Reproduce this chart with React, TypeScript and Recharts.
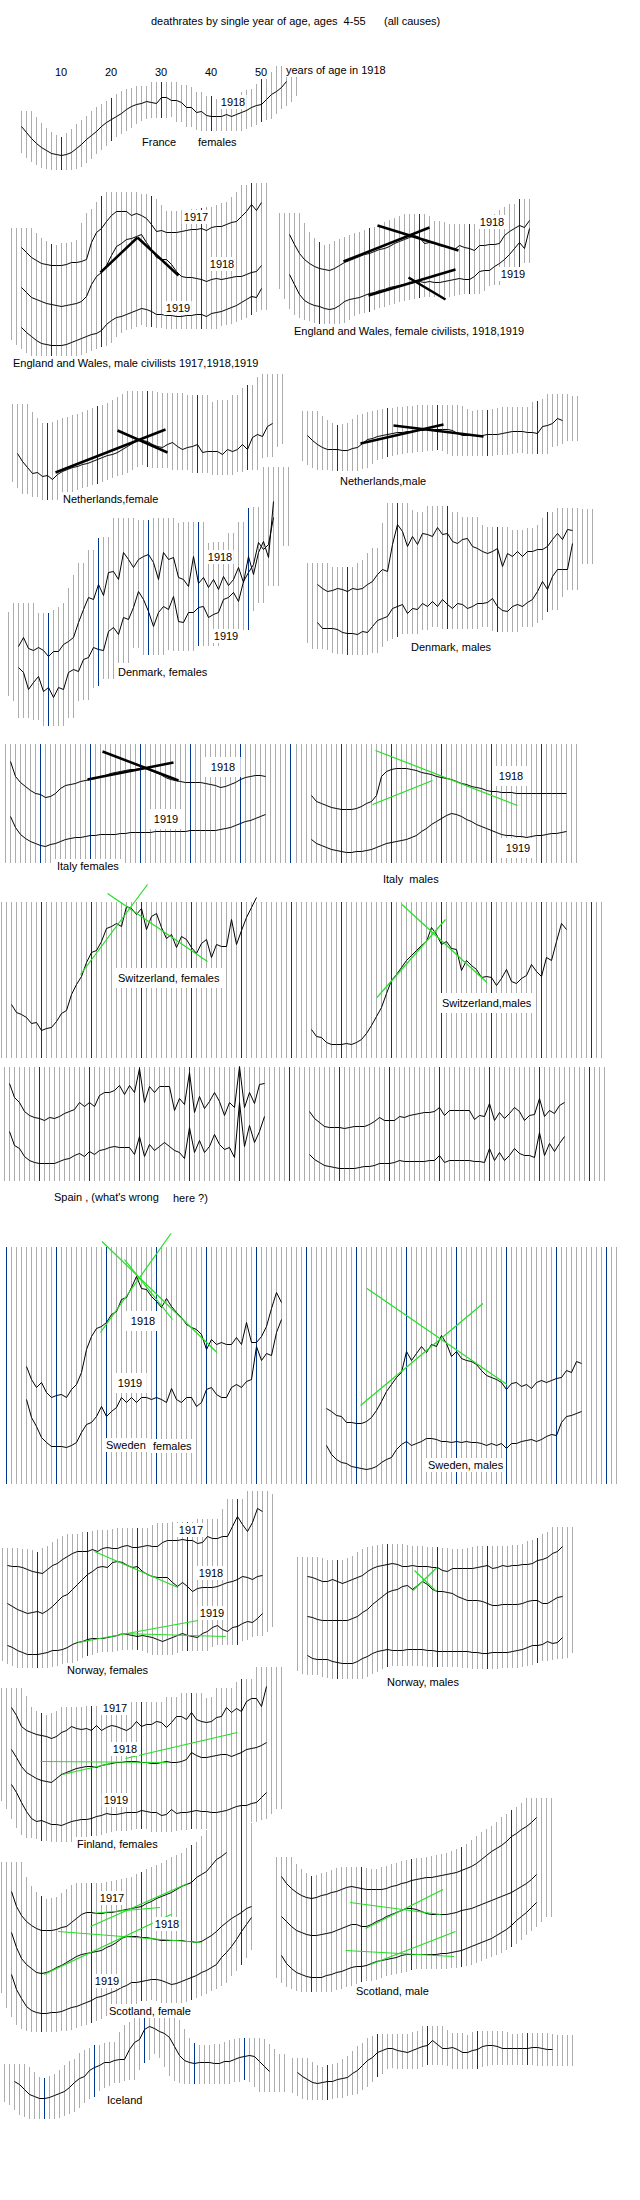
import React from 'react';
import { ComposedChart, Bar, Line, XAxis, YAxis, ReferenceLine, Cell } from 'recharts';

// ---------------- data (values = height above panel base, per single year of age) ----------------
const FRANCE_F_1918 = [38,32,26,21,17,14,11,10,9,10,12,16,20,25,29,33,38,42,45,48,51,55,58,60,61,63,62,61,67,67,64,64,62,57,57,52,53,49,48,48,48,50,48,50,52,54,57,59,60,65,70,73,77,83];

const ENG_M_1917 = [112,107,102,99,96,95,94,94,94,95,97,97,98,100,117,127,131,138,144,148,148,148,144,146,144,141,135,128,129,127,127,127,128,129,130,130,131,129,132,133,133,135,137,138,143,148,155,149,157];
const ENG_M_1918 = [72,67,62,60,58,56,55,54,53,54,55,56,58,63,75,83,87,94,104,113,116,120,121,123,125,117,110,102,100,100,95,88,83,82,82,81,80,78,80,81,80,81,82,83,83,85,87,88,94];
const ENG_M_1919 = [32,27,23,19,16,15,14,14,14,15,17,19,21,23,25,26,29,35,39,42,43,45,47,49,51,50,48,45,45,44,44,43,43,44,44,45,45,43,46,47,48,50,52,54,57,60,63,62,71];
const ENG_M_TRENDS = [[19.8,87,27.2,122],[27.2,122,35.4,84]];

const ENG_F_1918 = [88,78,69,63,59,56,54,53,52,54,57,60,62,64,66,68,69,71,73,74,76,79,81,83,85,87,85,79,80,79,77,76,75,73,77,75,74,72,77,77,78,78,79,87,91,94,97,95,102];
const ENG_F_1919 = [48,38,28,22,19,17,16,14,13,14,17,21,23,24,25,27,29,30,32,33,35,36,37,38,39,40,41,40,41,40,40,41,42,43,44,43,43,46,51,52,52,56,59,63,68,74,80,74,94];
const ENG_F_TRENDS = [[14.8,61,32,95],[21.6,97,37.8,72],[19.8,27,37.2,53],[27.8,45,35.2,23]];

const NETH_F = [46,38,32,26,27,23,24,20,25,28,30,32,33,35,36,38,40,42,44,45,47,50,53,56,59,59,58,55,53,52,55,57,53,50,52,53,55,47,48,48,48,45,50,48,50,55,50,62,65,63,73,76];
const NETH_F_TRENDS = [[11.6,27,33.6,70],[24,69,34,47]];
const NETH_M = [32,27,23,20,18,18,18,17,17,19,20,24,28,29,31,32,33,34,35,35,36,36,37,37,38,38,38,38,38,37,34,32,32,32,32,32,33,33,33,34,35,36,36,36,35,35,34,41,42,44,49,47];
const NETH_M_TRENDS = [[14.6,24,31.2,43],[21.2,42,39.2,31]];

const DEN_F_1918 = [63,72,61,59,62,59,53,58,58,65,68,72,87,100,112,110,125,114,137,138,130,157,150,142,150,153,155,147,130,157,150,152,132,130,123,153,126,132,122,130,120,133,124,130,142,127,153,135,157,168,152,208];
const DEN_F_1919 = [42,37,20,27,33,18,22,12,22,20,37,40,38,50,52,62,60,59,78,82,75,92,90,102,118,110,98,83,97,103,100,113,88,87,97,97,102,103,92,95,97,110,112,117,108,128,137,145,167,160,165,192];
const DEN_M_1918 = [67,63,60,61,63,62,60,63,62,63,67,70,77,82,80,107,127,120,105,115,107,118,117,115,124,117,118,110,108,112,113,105,103,100,98,100,103,85,98,95,100,95,100,100,102,102,105,112,118,112,122,121];
const DEN_M_1919 = [29,23,23,23,22,19,18,18,17,20,19,25,31,33,35,43,45,47,38,43,42,48,45,50,45,52,47,43,48,47,43,45,48,48,49,53,45,41,40,45,47,45,49,52,60,70,62,75,82,82,82,108];

const ITALY_F_1918 = [101,86,80,76,72,69,68,65,66,69,74,77,78,79,81,82,83,84,86,87,89,90,91,92,93,93,94,94,92,90,88,85,83,82,81,80,80,80,80,79,78,77,75,76,78,80,83,85,86,87,87,86];
const ITALY_F_1919 = [46,35,28,24,21,19,17,16,18,19,21,23,24,25,25,26,27,27,28,28,28,28,29,29,30,30,30,30,30,31,31,31,31,31,31,31,32,32,32,32,32,32,33,34,35,37,39,41,42,44,46,48];
const ITALY_F_TRENDS = [[22.4,111,37.6,82],[19.4,83,36.6,100]];
const ITALY_M_1918 = [67,61,59,57,55,54,53,53,53,54,56,59,61,67,86,91,93,94,94,94,93,92,90,89,88,86,85,84,83,81,79,78,76,75,74,72,71,71,70,70,70,69,69,69,69,69,69,69,69,69,69,69];
const ITALY_M_1919 = [23,19,17,15,13,12,11,10,10,11,11,12,13,15,17,19,20,21,22,23,25,27,31,34,38,41,44,47,49,48,46,43,41,38,36,34,32,30,28,27,27,26,26,25,26,27,27,28,29,29,30,31];
const ITALY_M_TRENDS = [[16.8,112,45.2,57],[16.2,58,28.2,82]];

const SWISS_F = [53,45,43,40,34,35,27,29,30,36,44,47,63,73,81,95,105,107,116,129,131,134,131,151,149,143,149,128,141,144,130,119,123,110,121,118,110,104,114,118,100,113,111,111,138,113,127,140,150,160];
const SWISS_F_TRENDS = [[17.8,83,31.2,173],[23.2,164,43.2,96]];
const SWISS_M = [28,21,20,15,13,13,13,14,13,15,18,24,32,41,50,64,77,83,90,97,102,107,112,116,130,123,113,116,109,108,87,97,92,88,80,81,80,72,79,88,76,74,79,82,93,86,81,100,97,116,134,128];
const SWISS_M_TRENDS = [[17.1,60,30.8,138],[22.1,153,39.1,75]];

const SPAIN_A_1918 = [97,83,78,69,65,63,62,60,63,62,64,67,69,71,78,74,78,74,85,88,88,90,95,86,95,88,112,78,94,88,94,94,94,70,82,76,108,68,84,72,79,88,79,65,78,73,114,73,88,77,96,97];
const SPAIN_A_1919 = [49,35,32,24,20,18,17,17,17,17,19,21,22,25,27,24,29,26,30,31,33,34,33,33,33,26,44,24,36,30,34,38,34,30,28,22,53,28,40,28,34,46,36,31,33,23,78,34,55,38,49,64];
const SPAIN_B_1918 = [69,62,58,54,53,53,53,52,53,54,54,54,56,59,63,60,60,60,64,63,65,66,67,68,68,69,73,65,70,70,70,70,70,61,65,64,77,60,68,62,67,73,69,60,65,66,82,64,70,67,75,78];
const SPAIN_B_1919 = [26,21,18,15,14,13,12,12,12,12,13,14,14,15,17,17,17,18,20,19,19,19,19,19,20,20,25,18,20,20,20,20,20,19,19,18,32,20,28,20,25,32,27,25,25,23,48,25,37,29,37,44];

const SWE_F_1918 = [117,104,96,101,91,86,88,89,86,94,99,111,134,147,155,157,161,169,172,184,186,196,207,195,194,187,182,176,185,177,171,166,159,156,154,149,134,144,139,141,139,139,146,139,161,141,141,147,157,175,191,181];
const SWE_F_1919 = [84,66,57,46,41,37,37,37,36,38,41,51,59,61,67,77,67,72,76,86,81,86,81,86,86,84,86,84,81,95,84,81,86,86,77,81,94,96,89,86,86,96,99,96,102,104,137,123,130,128,151,164];
const SWE_F_TRENDS = [[19.1,242,42.1,131],[18.8,151,32.9,250],[23.6,224,33.2,164]];
const SWE_M_1918 = [75,72,68,67,61,61,60,60,62,66,73,82,92,99,106,111,132,123,130,137,131,139,137,148,140,127,132,125,123,122,119,113,108,106,104,101,94,100,101,97,99,95,101,103,101,103,105,106,113,111,122,120];
const SWE_M_1919 = [38,29,24,21,20,17,16,15,14,15,17,21,24,26,34,39,42,38,40,42,45,45,44,42,42,41,42,41,42,41,41,40,38,40,38,40,35,40,40,42,43,44,42,44,47,49,48,61,67,68,70,72];
const SWE_M_TRENDS = [[12.1,195,40.1,99],[10.8,78,35.3,180]];

const NOR_F_1917 = [99,98,98,97,95,93,92,91,95,99,101,105,108,111,113,113,113,115,113,116,117,116,116,118,119,117,117,118,119,118,118,122,124,124,124,125,124,124,121,122,128,126,126,128,128,138,148,140,133,142,156,153];
const NOR_F_1918 = [61,58,55,53,51,52,53,51,54,58,63,68,70,75,80,85,90,93,97,98,97,102,103,102,99,97,98,93,90,88,87,87,87,82,78,82,78,73,76,77,77,77,78,80,82,83,85,88,87,85,88,89];
const NOR_F_1919 = [19,17,14,12,10,10,10,11,12,14,14,15,17,20,22,23,25,26,26,26,27,28,29,31,30,29,28,29,28,27,25,23,25,27,29,31,29,28,27,31,33,37,39,35,33,37,38,41,43,42,46,51];
const NOR_F_TRENDS = [[21.4,113,38.1,77],[18.1,22,42.1,44],[26.7,31,47.7,28]];
const NOR_M_1917 = [95,94,92,90,90,92,90,88,90,92,94,96,100,103,105,106,107,108,107,105,105,106,105,105,105,104,104,101,100,103,103,103,103,103,104,105,106,103,104,106,105,106,106,107,107,108,111,112,114,118,120,125];
const NOR_M_1918 = [55,54,52,51,51,51,51,51,51,53,55,59,62,67,71,75,79,81,82,85,86,82,86,90,87,82,80,80,79,78,75,73,71,71,71,70,68,66,66,67,67,67,67,68,70,71,71,68,68,71,74,75];
const NOR_M_1919 = [16,13,12,12,12,10,9,8,8,8,10,13,15,18,20,21,22,21,21,21,22,22,22,22,21,21,20,20,20,20,20,20,20,19,19,18,18,19,19,19,19,20,21,22,24,26,26,27,30,28,29,34];
const NOR_M_TRENDS = [[25.4,101,29.8,80],[25.1,81,29.9,104]];

const FIN_1917 = [132,124,113,109,107,105,104,103,101,103,107,109,113,111,110,111,109,114,109,112,114,113,111,109,112,118,113,115,115,118,117,112,117,123,123,120,127,120,118,117,118,122,123,132,127,131,128,138,141,141,133,153];
const FIN_1918 = [90,82,73,67,64,61,59,58,57,61,65,67,69,71,72,73,73,72,74,75,76,77,77,78,78,78,77,77,76,76,77,78,77,77,78,80,87,84,82,82,83,84,85,85,83,85,87,90,91,92,94,97];
const FIN_1919 = [55,47,37,28,21,18,19,17,15,15,14,16,18,19,20,20,21,23,24,26,25,25,26,27,27,27,29,28,27,27,24,25,30,26,27,27,28,29,28,28,27,27,28,29,31,33,34,34,36,37,42,47];
const FIN_TRENDS = [[26.8,81,49.2,107],[9.8,78,35.2,77],[14.2,65,23.8,76]];

const SCO_F_1917 = [133,118,109,103,99,96,94,94,94,95,97,98,102,106,110,112,112,111,111,112,112,113,114,115,116,117,118,121,123,126,128,130,132,135,138,140,142,147,150,153,159,165,168,172];
const SCO_F_1918 = [92,77,66,60,56,52,51,52,54,57,59,62,65,68,70,71,72,73,74,77,79,82,86,88,88,88,87,87,86,85,84,84,84,84,84,83,83,82,83,86,89,93,98,102,106,109,112,116,118];
const SCO_F_1919 = [50,35,26,18,14,12,11,11,12,12,13,15,17,18,20,22,24,27,28,30,32,34,37,39,42,42,43,44,45,45,44,42,40,41,43,45,47,49,52,54,57,60,67,72,78,85,93,100,107];
const SCO_F_TRENDS = [[19.8,98,39.2,141],[19.9,111,33.7,117],[13.3,93,41.8,82],[10.5,50,35.9,110]];
const SCO_M_1917 = [113,106,101,97,94,92,91,92,94,95,97,98,100,102,103,102,101,100,100,100,100,101,103,104,106,107,109,110,111,112,112,113,114,115,116,117,119,121,123,126,130,134,138,141,144,148,153,156,160,163,167,172];
const SCO_M_1918 = [73,68,63,59,57,55,54,54,55,56,57,59,61,63,65,65,63,63,65,68,70,73,75,77,79,81,81,80,78,76,75,75,75,75,76,77,79,80,81,83,85,87,89,91,93,95,97,100,103,106,110,115];
const SCO_M_1919 = [34,26,21,17,15,13,12,12,12,14,15,17,18,20,22,23,23,24,26,28,29,30,31,32,34,35,35,35,35,35,35,35,36,36,37,38,39,41,43,45,47,49,51,54,57,60,64,69,73,77,82,87];
const SCO_M_TRENDS = [[17.7,87,35.8,75],[20.8,61,36.3,100],[16.8,39,38.5,33],[21.8,25,38.8,58]];

const ICE_F = [28,25,20,15,13,11,11,12,14,16,18,22,27,31,33,39,42,44,47,47,49,50,50,60,67,70,80,83,81,78,76,72,63,54,49,47,46,47,47,47,46,46,48,48,50,52,53,54,53,48,43,38];
const ICE_M = [29,25,22,19,18,19,20,20,22,23,24,28,31,36,41,44,49,51,53,53,51,50,49,51,53,55,56,61,57,53,53,54,52,49,49,51,52,55,56,56,55,53,53,53,53,53,53,54,54,53,52,52];

const DECADE_TICKS = ['10', '20', '30', '40', '50'];

// ---------------- layout / style ----------------
const GRAY = '#acacac';
const BLUE = '#00358c';
const GREEN = '#22e022';
const FONT = "'Liberation Sans', Arial, Helvetica, sans-serif";
const M = 40;

type Series = { from: number; vals: number[] };
type PanelCfg = {
  x10: number; bottom: number; height: number;
  bandFrom: number; bandTo: number;
  full?: boolean; padTop?: number; padBottom?: number;
  series: Series[]; black?: number[][]; green?: number[][];
};

const s4 = (vals: number[]): Series => ({ from: 4, vals });

const PANELS: PanelCfg[] = [
  { x10: 61, bottom: 165, height: 100, bandFrom: 2, bandTo: 57, padTop: 16, padBottom: 14, series: [{ from: 2, vals: FRANCE_F_1918 }] },
  { x10: 51, bottom: 360, height: 170, bandFrom: 2, bandTo: 53, padTop: 20, padBottom: 12, series: [s4(ENG_M_1917), s4(ENG_M_1918), s4(ENG_M_1919)], black: ENG_M_TRENDS },
  { x10: 319, bottom: 323, height: 130, bandFrom: 2, bandTo: 52, padTop: 22, padBottom: 14, series: [s4(ENG_F_1918), s4(ENG_F_1919)], black: ENG_F_TRENDS },
  { x10: 47, bottom: 500, height: 120, bandFrom: 3, bandTo: 57, padTop: 50, padBottom: 20, series: [s4(NETH_F)], black: NETH_F_TRENDS },
  { x10: 337, bottom: 468, height: 80, bandFrom: 3, bandTo: 58, padTop: 25, padBottom: 20, series: [s4(NETH_M)], black: NETH_M_TRENDS },
  { x10: 48, bottom: 710, height: 220, bandFrom: 2, bandTo: 58, padTop: 35, padBottom: 28, series: [s4(DEN_F_1918), s4(DEN_F_1919)] },
  { x10: 347, bottom: 652, height: 150, bandFrom: 2, bandTo: 59, padTop: 22, padBottom: 20, series: [s4(DEN_M_1918), s4(DEN_M_1919)] },
  { x10: 40, bottom: 863, height: 119, bandFrom: 3, bandTo: 60, full: true, series: [s4(ITALY_F_1918), s4(ITALY_F_1919)], black: ITALY_F_TRENDS },
  { x10: 341, bottom: 863, height: 119, bandFrom: 1, bandTo: 57, full: true, series: [s4(ITALY_M_1918), s4(ITALY_M_1919)], green: ITALY_M_TRENDS },
  { x10: 41, bottom: 1058, height: 156, bandFrom: 2, bandTo: 60, full: true, series: [s4(SWISS_F)], green: SWISS_F_TRENDS },
  { x10: 341, bottom: 1058, height: 156, bandFrom: 1, bandTo: 62, full: true, series: [s4(SWISS_M)], green: SWISS_M_TRENDS },
  { x10: 39, bottom: 1181, height: 114, bandFrom: 3, bandTo: 60, full: true, series: [s4(SPAIN_A_1918), s4(SPAIN_A_1919)] },
  { x10: 339, bottom: 1181, height: 114, bandFrom: 1, bandTo: 63, full: true, series: [s4(SPAIN_B_1918), s4(SPAIN_B_1919)] },
  { x10: 56, bottom: 1484, height: 237, bandFrom: 0, bandTo: 60, full: true, series: [s4(SWE_F_1918), s4(SWE_F_1919)], green: SWE_F_TRENDS },
  { x10: 356, bottom: 1484, height: 237, bandFrom: 1, bandTo: 62, full: true, series: [s4(SWE_M_1918), s4(SWE_M_1919)], green: SWE_M_TRENDS },
  { x10: 37, bottom: 1665, height: 175, bandFrom: 3, bandTo: 57, padTop: 18, padBottom: 13, series: [s4(NOR_F_1917), s4(NOR_F_1918), s4(NOR_F_1919)], green: NOR_F_TRENDS },
  { x10: 337, bottom: 1672, height: 140, bandFrom: 2, bandTo: 57, padTop: 20, padBottom: 15, series: [s4(NOR_M_1917), s4(NOR_M_1918), s4(NOR_M_1919)], green: NOR_M_TRENDS },
  { x10: 41, bottom: 1840, height: 180, bandFrom: 2, bandTo: 58, padTop: 20, padBottom: 16, series: [s4(FIN_1917), s4(FIN_1918), s4(FIN_1919)], green: FIN_TRENDS },
  { x10: 41, bottom: 2025, height: 180, bandFrom: 2, bandTo: 52, padTop: 30, padBottom: 18, series: [s4(SCO_F_1917), s4(SCO_F_1918), s4(SCO_F_1919)], green: SCO_F_TRENDS },
  { x10: 311, bottom: 1990, height: 190, bandFrom: 3, bandTo: 58, padTop: 20, padBottom: 14, series: [s4(SCO_M_1917), s4(SCO_M_1918), s4(SCO_M_1919)], green: SCO_M_TRENDS },
  { x10: 44, bottom: 2110, height: 100, bandFrom: 2, bandTo: 58, padTop: 18, padBottom: 20, series: [s4(ICE_F)] },
  { x10: 327, bottom: 2102, height: 90, bandFrom: 3, bandTo: 59, padTop: 15, padBottom: 16, series: [s4(ICE_M)] },
];

type Lbl = { t: string; x: number; y: number; c?: boolean; pad?: number };
const LABELS: Lbl[] = [
  { t: 'deathrates by single year of age, ages  4-55', x: 151, y: 21 },
  { t: '(all causes)', x: 384, y: 21 },
  ...DECADE_TICKS.map((t, i) => ({ t, x: 61 + 50 * i, y: 72, c: true })),
  { t: 'years of age in 1918', x: 286, y: 70 },
  { t: '1918', x: 233, y: 102, c: true },
  { t: 'France', x: 142, y: 142 },
  { t: 'females', x: 198, y: 142 },
  { t: '1917', x: 196, y: 217, c: true },
  { t: '1918', x: 222, y: 264, c: true },
  { t: '1919', x: 178, y: 308, c: true },
  { t: 'England and Wales, male civilists 1917,1918,1919', x: 13, y: 363 },
  { t: '1918', x: 492, y: 222, c: true },
  { t: '1919', x: 513, y: 274, c: true },
  { t: 'England and Wales, female civilists, 1918,1919', x: 294, y: 331 },
  { t: 'Netherlands,female', x: 63, y: 499 },
  { t: 'Netherlands,male', x: 340, y: 481 },
  { t: '1918', x: 220, y: 557, c: true },
  { t: '1919', x: 226, y: 636, c: true },
  { t: 'Denmark, females', x: 118, y: 672 },
  { t: 'Denmark, males', x: 411, y: 647 },
  { t: '1918', x: 223, y: 767, c: true, pad: 6 },
  { t: '1919', x: 166, y: 819, c: true, pad: 6 },
  { t: 'Italy females', x: 57, y: 866 },
  { t: '1918', x: 511, y: 776, c: true, pad: 6 },
  { t: '1919', x: 518, y: 848, c: true, pad: 6 },
  { t: 'Italy  males', x: 383, y: 879 },
  { t: 'Switzerland, females', x: 118, y: 978, pad: 5 },
  { t: 'Switzerland,males', x: 442, y: 1003, pad: 3 },
  { t: "Spain , (what's wrong", x: 54, y: 1197 },
  { t: 'here ?)', x: 173, y: 1198 },
  { t: '1918', x: 143, y: 1321, c: true, pad: 5 },
  { t: '1919', x: 130, y: 1383, c: true, pad: 5 },
  { t: 'Sweden', x: 106, y: 1445 },
  { t: 'females', x: 153, y: 1446 },
  { t: 'Sweden, males', x: 428, y: 1465 },
  { t: '1917', x: 191, y: 1530, c: true },
  { t: '1918', x: 211, y: 1573, c: true },
  { t: '1919', x: 212, y: 1613, c: true },
  { t: 'Norway, females', x: 67, y: 1670 },
  { t: 'Norway, males', x: 387, y: 1682 },
  { t: '1917', x: 115, y: 1708, c: true },
  { t: '1918', x: 125, y: 1749, c: true },
  { t: '1919', x: 116, y: 1800, c: true },
  { t: 'Finland, females', x: 77, y: 1844 },
  { t: '1917', x: 112, y: 1898, c: true },
  { t: '1918', x: 167, y: 1924, c: true },
  { t: '1919', x: 107, y: 1981, c: true },
  { t: 'Scotland, female', x: 109, y: 2011 },
  { t: 'Scotland, male', x: 356, y: 1991 },
  { t: 'Iceland', x: 107, y: 2100 },
];

function buildRows(p: PanelCfg) {
  const rows: any[] = [];
  for (let a = p.bandFrom; a <= p.bandTo; a++) {
    const row: any = { age: a };
    p.series.forEach((s, i) => {
      const idx = a - s.from;
      row['s' + i] = idx >= 0 && idx < s.vals.length ? s.vals[idx] : null;
    });
    if (p.full) {
      row.band = [0, p.height];
    } else {
      let hi = -Infinity;
      let lo = Infinity;
      for (let b = a - 2; b <= a + 2; b++) {
        p.series.forEach((s) => {
          const idx = Math.min(Math.max(b - s.from, 0), s.vals.length - 1);
          hi = Math.max(hi, s.vals[idx]);
          lo = Math.min(lo, s.vals[idx]);
        });
      }
      row.band = [lo - (p.padBottom || 0), hi + (p.padTop || 0)];
    }
    rows.push(row);
  }
  return rows;
}

function Panel({ p }: { p: PanelCfg }) {
  const rows = buildRows(p);
  const n = p.bandTo - p.bandFrom + 1;
  const width = 5 * (n + 1);
  const left = p.x10 - 5 * (10 - p.bandFrom + 1);
  const h = p.height + 2 * M;
  const top = p.bottom - p.height - M;
  const seg = (s: number[]) => [{ x: s[0], y: s[1] }, { x: s[2], y: s[3] }];
  return (
    <div style={{ position: 'absolute', left, top, width, height: h }}>
      <ComposedChart width={width} height={h} data={rows} margin={{ top: 0, right: 0, bottom: 0, left: 0 }}>
        <XAxis type="number" dataKey="age" domain={[p.bandFrom - 1.1, p.bandTo + 0.9]} hide allowDataOverflow />
        <YAxis type="number" domain={[-M - 0.5, p.height + M - 0.5]} hide allowDataOverflow />
        <Bar dataKey="band" barSize={1} isAnimationActive={false} shapeRendering="crispEdges">
          {rows.map((r) => (
            <Cell key={r.age} fill={r.age % 10 === 0 ? BLUE : GRAY} />
          ))}
        </Bar>
        {p.series.map((s, i) => (
          <Line key={i} type="linear" dataKey={'s' + i} stroke="#000" strokeWidth={1} dot={false} activeDot={false} isAnimationActive={false} connectNulls={false} />
        ))}
        {(p.black || []).map((s, i) => (
          <ReferenceLine key={'b' + i} segment={seg(s) as any} stroke="#000" strokeWidth={2.5} ifOverflow="visible" />
        ))}
        {(p.green || []).map((s, i) => (
          <ReferenceLine key={'g' + i} segment={seg(s) as any} stroke={GREEN} strokeWidth={1.2} ifOverflow="visible" />
        ))}
      </ComposedChart>
    </div>
  );
}

export default function App() {
  return (
    <div style={{ position: 'absolute', left: 0, top: 0, width: 640, height: 2200, background: '#fff', overflow: 'hidden' }}>
      {PANELS.map((p, i) => (
        <Panel key={i} p={p} />
      ))}
      {LABELS.map((l, i) => {
        const pad = l.pad ?? 2;
        return (
          <div
            key={'l' + i}
            style={{
              position: 'absolute',
              left: l.c ? l.x : l.x - pad,
              top: l.y - 7 - (l.pad ? 3 : 0),
              transform: l.c ? 'translateX(-50%)' : undefined,
              fontFamily: FONT,
              fontSize: 11,
              lineHeight: '14px',
              color: '#000',
              background: '#fff',
              padding: l.pad ? `3px ${pad}px` : `0 ${pad}px`,
              whiteSpace: 'pre',
            }}
          >
            {l.t}
          </div>
        );
      })}
    </div>
  );
}
